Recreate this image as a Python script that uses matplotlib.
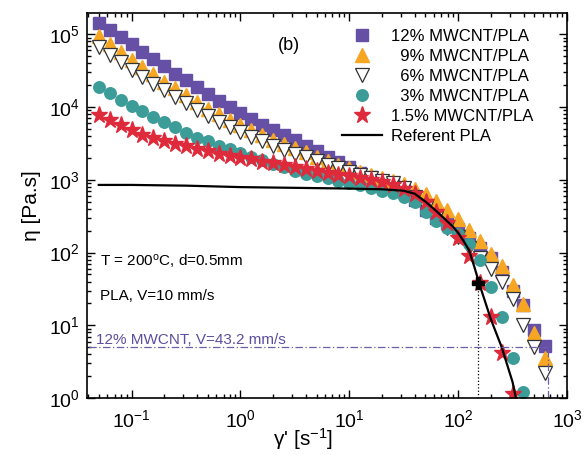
import numpy as np
import matplotlib
matplotlib.use("Agg")
import matplotlib.pyplot as plt
from matplotlib.ticker import LogLocator, NullFormatter

# shear rate sweep, 10 points per decade [1/s]
shear = [0.0501, 0.0631, 0.0794, 0.1, 0.126, 0.158, 0.2, 0.251, 0.316, 0.398,
         0.501, 0.631, 0.794, 1.0, 1.26, 1.58, 2.0, 2.51, 3.16, 3.98,
         5.01, 6.31, 7.94, 10.0, 12.6, 15.8, 20.0, 25.1, 31.6, 39.8,
         50.1, 63.1, 79.4, 100.0, 126.0, 158.0, 200.0, 251.0, 316.0, 398.0,
         501.0, 631.0]

# log10 of viscosity [Pa.s]
lg_eta_12 = [5.15, 5.06, 4.96, 4.86, 4.76, 4.66, 4.56, 4.46, 4.37, 4.27,
             4.18, 4.09, 4.00, 3.92, 3.84, 3.76, 3.69, 3.62, 3.55, 3.47,
             3.39, 3.31, 3.24, 3.17, 3.10, 3.04, 2.99, 2.94, 2.86, 2.72,
             2.58, 2.47, 2.40, 2.32, 2.20, 2.06, 1.92, 1.73, 1.47, 1.28,
             0.93, 0.72]
lg_eta_9 = [4.97, 4.86, 4.76, 4.65, 4.55, 4.45, 4.35, 4.26, 4.16, 4.07,
            3.98, 3.90, 3.82, 3.75, 3.68, 3.61, 3.55, 3.49, 3.44, 3.38,
            3.32, 3.26, 3.21, 3.16, 3.11, 3.06, 3.02, 2.98, 2.94, 2.88,
            2.80, 2.71, 2.59, 2.46, 2.31, 2.16, 1.98, 1.81, 1.55, 1.30,
            0.90, 0.55]
lg_eta_6 = [4.83, 4.72, 4.62, 4.51, 4.42, 4.32, 4.23, 4.14, 4.05, 3.96,
            3.88, 3.80, 3.73, 3.66, 3.59, 3.53, 3.47, 3.41, 3.36, 3.31,
            3.26, 3.21, 3.16, 3.11, 3.07, 3.03, 2.99, 2.95, 2.89, 2.76,
            2.61, 2.47, 2.34, 2.21, 2.07, 1.92, 1.77, 1.59, 1.36, 1.00,
            0.70, 0.34]
lg_eta_3 = [4.28, 4.19, 4.10, 4.01, 3.94, 3.87, 3.80, 3.72, 3.65, 3.58,
            3.53, 3.47, 3.42, 3.37, 3.32, 3.27, 3.22, 3.17, 3.12, 3.08,
            3.05, 3.02, 2.99, 2.96, 2.93, 2.89, 2.85, 2.82, 2.77, 2.69,
            2.56, 2.44, 2.34, 2.25, 2.12, 1.90, 1.53, 1.11, 0.55, 0.08]
lg_eta_15 = [3.89, 3.82, 3.75, 3.68, 3.62, 3.57, 3.53, 3.49, 3.46, 3.42,
             3.39, 3.36, 3.33, 3.30, 3.28, 3.25, 3.23, 3.21, 3.18, 3.15,
             3.12, 3.10, 3.07, 3.05, 3.02, 3.00, 2.97, 2.93, 2.88, 2.80,
             2.70, 2.56, 2.40, 2.20, 1.96, 1.58, 1.12, 0.62, 0.05]

# neat PLA model curve
shear_pla = [0.05, 0.1, 0.316, 1.0, 3.16, 10.0, 20.0, 31.6, 39.8, 50.1, 63.1,
             79.4, 89.1, 100.0, 112.0, 126.0, 141.0, 158.0, 200.0, 251.0,
             316.0, 339.0]
lg_eta_pla = [2.93, 2.93, 2.92, 2.90, 2.89, 2.88, 2.87, 2.85, 2.81, 2.70, 2.57,
              2.43, 2.36, 2.27, 2.16, 2.03, 1.80, 1.55, 1.08, 0.70,
              0.22, 0.0]

# printing conditions
rate_pla, eta_pla = 152, 38       # PLA, V=10 mm/s
rate_12, eta_12 = 673, 5          # 12% MWCNT, V=43.2 mm/s

plt.rcParams["font.family"] = ["Liberation Sans", "DejaVu Sans"]
plt.rcParams["mathtext.fontset"] = "custom"
plt.rcParams["mathtext.rm"] = "Liberation Sans"

purple = "#6650a6"
orange = "#f6a623"
teal = "#3c9c98"
red = "#de2a3b"
dashdot = "#6a5fa8"

fig = plt.figure(figsize=(5.84, 4.55), dpi=100)
ax = fig.add_axes([0.149, 0.125, 0.822, 0.846])

def eta(lg):
    return 10 ** np.array(lg)

n = len(lg_eta_12)
ax.plot(shear[:n], eta(lg_eta_12), ls="none", marker="s", ms=8.3, color=purple,
        mec=purple, label="12% MWCNT/PLA")
n = len(lg_eta_9)
ax.plot(shear[:n], eta(lg_eta_9), ls="none", marker="^", ms=10, color=orange,
        mec=orange, label="  9% MWCNT/PLA")
n = len(lg_eta_6)
ax.plot(shear[:n], eta(lg_eta_6), ls="none", marker="v", ms=10, mfc="white",
        mec="#333333", mew=0.9, label="  6% MWCNT/PLA")
n = len(lg_eta_3)
ax.plot(shear[:n], eta(lg_eta_3), ls="none", marker="o", ms=8.3, color=teal,
        mec=teal, label="  3% MWCNT/PLA")
n = len(lg_eta_15)
ax.plot(shear[:n], eta(lg_eta_15), ls="none", marker="*", ms=12.5, color=red,
        mec=red, label="1.5% MWCNT/PLA")
ax.plot(shear_pla, eta(lg_eta_pla), color="black", lw=1.6, label="Referent PLA")

# operating points
ax.plot([rate_pla, rate_pla], [1, eta_pla], color="black", lw=0.9, ls=":")
ax.plot(rate_pla, eta_pla, ls="none", marker="P", ms=8, color="black")
ax.plot([0.03, rate_12], [eta_12, eta_12], color=dashdot, lw=0.9,
        ls=(0, (6, 2, 1, 2)))
ax.plot([rate_12, rate_12], [1, eta_12], color=dashdot, lw=0.9,
        ls=(0, (6, 2, 1, 2)))

ax.set_xscale("log")
ax.set_yscale("log")
ax.set_xlim(0.039, 1000)
ax.set_ylim(1, 1.95e5)

ax.xaxis.set_major_locator(LogLocator(base=10, numticks=10))
ax.yaxis.set_major_locator(LogLocator(base=10, numticks=10))
for axis in (ax.xaxis, ax.yaxis):
    axis.set_minor_locator(LogLocator(base=10, subs=np.arange(2, 10), numticks=20))
    axis.set_minor_formatter(NullFormatter())
ax.tick_params(which="both", direction="in", top=True, right=True, width=1)
ax.tick_params(which="major", length=6, labelsize=14)
ax.tick_params(axis="x", which="major", pad=8)
ax.tick_params(axis="y", which="major", pad=5)
ax.tick_params(which="minor", length=3)
for s in ax.spines.values():
    s.set_linewidth(1.2)

ax.set_xlabel("γ' [s$\\mathregular{^{-1}}$]", fontsize=15)
ax.xaxis.set_label_coords(0.45, -0.072)
ax.set_ylabel("η [Pa.s]", fontsize=15, labelpad=6)

ax.text(0.42, 0.905, "(b)", transform=ax.transAxes, fontsize=13, ha="center")
ax.text(0.027, 0.345, "T = 200$\\mathregular{^{o}}$C, d=0.5mm",
        transform=ax.transAxes, fontsize=11)
ax.text(0.027, 0.255, "PLA, V=10 mm/s", transform=ax.transAxes, fontsize=11)
ax.text(0.018, 0.14, "12% MWCNT, V=43.2 mm/s", transform=ax.transAxes,
        fontsize=11, color="#5b4f9e")

leg = ax.legend(loc="upper right", bbox_to_anchor=(0.95, 0.985), frameon=False,
                fontsize=12, handlelength=2.4, handletextpad=0.5,
                labelspacing=0.3, borderaxespad=0.2)

fig.savefig("out.png", dpi=100)
